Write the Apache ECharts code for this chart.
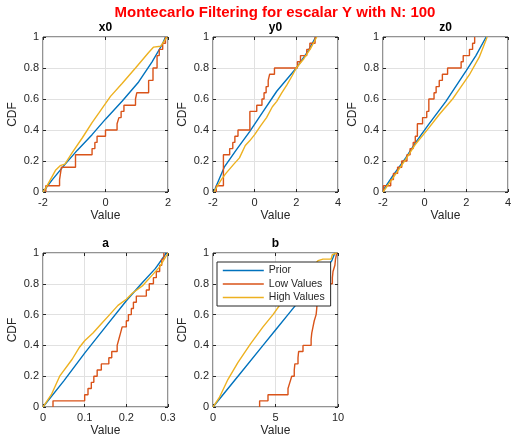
<!DOCTYPE html>
<html>
<head>
<meta charset="utf-8">
<script src="https://cdn.jsdelivr.net/npm/echarts@6/dist/echarts.min.js"></script>
<style>
  html, body { margin: 0; padding: 0; background: #ffffff; }
  #chart { width: 517px; height: 442px; }
</style>
</head>
<body>
<div id="chart"></div>
<script>
// ---- data: empirical CDF curves, [value, cdf] pairs per parameter ----
const panelTitles = ['x0', 'y0', 'z0', 'a', 'b'];
const seriesNames = ['Prior', 'Low Values', 'High Values'];
const cdfTicks = [0, 0.2, 0.4, 0.6, 0.8, 1];

const xTicksX0 = [-2, 0, 2];
const xTicksY0 = [-2, 0, 2, 4];
const xTicksZ0 = [-2, 0, 2, 4];
const xTicksA = [0, 0.1, 0.2, 0.3];
const xTicksB = [0, 5, 10];

const priorX0 = [[-2,0],[-1.7,0.08],[-1.33,0.17],[-0.9,0.27],[-0.43,0.37],[0,0.47],[0.53,0.585],[1.06,0.71],[1.49,0.84],[1.81,0.95],[1.92,1]];
const lowX0 = [[-1.91,0],[-1.91,0.04],[-1.47,0.08],[-1.41,0.16],[-0.96,0.24],[-0.43,0.28],[-0.34,0.32],[-0.27,0.36],[0,0.4],[0.37,0.44],[0.43,0.48],[0.5,0.52],[0.59,0.56],[0.96,0.6],[1.0,0.64],[1.38,0.72],[1.52,0.8],[1.65,0.88],[1.72,0.92],[1.83,0.96],[1.92,1]];
const highX0 = [[-2,0],[-1.9,0.03],[-1.6,0.14],[-1.45,0.17],[-1.3,0.18],[-1.06,0.255],[-0.74,0.35],[-0.43,0.447],[-0.21,0.51],[0.16,0.617],[0.53,0.7],[0.96,0.8],[1.38,0.9],[1.54,0.935],[1.76,0.94],[1.97,1]];

const priorY0 = [[-1.95,0],[-1.87,0.03],[-1.46,0.16],[-0.89,0.27],[-0.24,0.39],[0.41,0.52],[1.06,0.65],[2.0,0.8],[2.52,0.9],[2.93,1]];
const lowY0 = [[-1.84,0],[-1.84,0.04],[-1.5,0.24],[-1.2,0.28],[-1.05,0.32],[-0.95,0.36],[-0.8,0.4],[-0.23,0.52],[0.1,0.56],[0.35,0.6],[0.45,0.64],[0.55,0.68],[0.65,0.72],[0.72,0.76],[0.95,0.8],[2.05,0.84],[2.2,0.88],[2.5,0.92],[2.65,0.96],[2.9,1]];
const highY0 = [[-1.95,0],[-1.87,0.02],[-1.6,0.08],[-1.38,0.12],[-1.0,0.18],[-0.73,0.22],[-0.45,0.3],[-0.24,0.33],[0,0.37],[0.3,0.43],[0.57,0.48],[0.85,0.55],[1.06,0.585],[1.3,0.64],[1.54,0.69],[1.8,0.75],[2.0,0.8],[2.36,0.86],[2.68,0.925],[2.98,1]];

const priorZ0 = [[-2,0],[-1.95,0.02],[-1.55,0.1],[-0.91,0.22],[-0.43,0.32],[0.21,0.44],[1.02,0.585],[1.98,0.78],[2.46,0.88],[2.95,1]];
const lowZ0 = [[-1.98,0],[-1.98,0.04],[-1.63,0.08],[-1.5,0.12],[-1.3,0.16],[-1.1,0.2],[-0.85,0.24],[-0.7,0.28],[-0.55,0.32],[-0.45,0.36],[-0.35,0.44],[-0.1,0.48],[0.1,0.52],[0.2,0.6],[0.45,0.64],[0.55,0.68],[0.7,0.72],[0.85,0.76],[1.1,0.8],[1.75,0.84],[1.85,0.88],[2.15,0.92],[2.3,0.96],[2.4,1]];
const highZ0 = [[-2,0],[-1.95,0.01],[-1.55,0.085],[-0.91,0.21],[-0.43,0.31],[0.21,0.415],[0.7,0.5],[1.34,0.6],[1.7,0.67],[2.14,0.755],[2.62,0.87],[3.0,1]];

const priorA = [[0,0],[0.05,0.17],[0.1,0.35],[0.15,0.52],[0.2,0.69],[0.236,0.8],[0.27,0.9],[0.296,1]];
const lowA = [[0.024,0],[0.024,0.04],[0.1,0.08],[0.108,0.12],[0.116,0.16],[0.122,0.2],[0.13,0.24],[0.14,0.28],[0.158,0.32],[0.165,0.36],[0.178,0.4],[0.182,0.44],[0.186,0.48],[0.19,0.52],[0.2,0.56],[0.205,0.6],[0.212,0.64],[0.217,0.68],[0.224,0.72],[0.248,0.76],[0.255,0.8],[0.265,0.84],[0.272,0.88],[0.28,0.92],[0.285,0.96],[0.29,1]];
const highA = [[0,0],[0.02,0.08],[0.04,0.2],[0.07,0.31],[0.088,0.39],[0.1,0.43],[0.12,0.48],[0.14,0.54],[0.16,0.6],[0.18,0.66],[0.2,0.7],[0.215,0.74],[0.24,0.79],[0.26,0.85],[0.28,0.91],[0.3,1]];

const priorB = [[0,0],[2,0.2],[4,0.4],[5,0.5],[6,0.6],[8,0.8],[9.5,0.95],[9.75,1]];
const lowB = [[3.73,0],[3.73,0.04],[4.4,0.08],[6.0,0.12],[6.15,0.16],[6.3,0.2],[6.5,0.24],[6.55,0.28],[6.8,0.32],[6.85,0.36],[7.2,0.4],[7.85,0.44],[7.9,0.48],[8.0,0.52],[8.1,0.56],[8.25,0.6],[8.3,0.64],[8.35,0.72],[8.4,0.8],[9.55,0.84],[9.6,0.88],[9.75,0.92],[9.8,0.96],[9.9,1]];
const highB = [[0,0],[0.5,0.06],[1.2,0.18],[2,0.29],[3,0.41],[4,0.52],[4.8,0.6],[5.5,0.68],[6.5,0.78],[7.5,0.87],[8.4,0.95],[8.8,0.96],[9.45,0.96],[9.55,0.99],[9.9,1]];

// ---- assembly ----
const panelTicks = [xTicksX0, xTicksY0, xTicksZ0, xTicksA, xTicksB];
const panelCurves = [
  [priorX0, lowX0, highX0],
  [priorY0, lowY0, highY0],
  [priorZ0, lowZ0, highZ0],
  [priorA, lowA, highA],
  [priorB, lowB, highB]
];

// layout of the 2x3 subplot arrangement (pixels)
const gridPos = [[43, 37, 155], [213, 37, 155], [383, 37, 155], [43, 253, 154], [213, 253, 154]];
const gridWidth = 125;
const lineColors = ['#0072BD', '#D95319', '#EDB120'];
const inkColor = '#262626';
const gridColor = '#e1e1e1';
const fontFamily = 'Arial, "Liberation Sans", Helvetica, sans-serif';
const tickStyle = { show: true, inside: true, length: 3, lineStyle: { color: inkColor } };
const fmt = v => String(Math.round(v * 1000) / 1000);

const grids = [], xAxes = [], yAxes = [], series = [], texts = [];

panelTitles.forEach((title, i) => {
  const [left, top, height] = gridPos[i];
  grids.push({
    left: left, top: top, width: gridWidth, height: height,
    show: true, borderColor: inkColor, borderWidth: 1, backgroundColor: '#ffffff'
  });
  const ticks = panelTicks[i];
  xAxes.push({
    type: 'value', gridIndex: i, position: 'bottom',
    min: ticks[0], max: ticks[ticks.length - 1], interval: ticks[1] - ticks[0],
    axisLine: { show: false, onZero: false },
    axisTick: tickStyle,
    name: 'Value', nameLocation: 'middle', nameGap: 18,
    nameTextStyle: { fontSize: 12, color: inkColor, fontFamily: fontFamily },
    axisLabel: { fontSize: 11, color: inkColor, margin: 5, fontFamily: fontFamily, formatter: fmt },
    splitLine: { show: true, lineStyle: { color: gridColor, width: 1 } }
  });
  yAxes.push({
    type: 'value', gridIndex: i, position: 'left',
    min: cdfTicks[0], max: cdfTicks[cdfTicks.length - 1], interval: cdfTicks[1] - cdfTicks[0],
    axisLine: { show: false, onZero: false },
    axisTick: tickStyle,
    name: 'CDF', nameLocation: 'middle', nameGap: 24, nameRotate: 90,
    nameTextStyle: { fontSize: 12, color: inkColor, fontFamily: fontFamily },
    axisLabel: { fontSize: 11, color: inkColor, margin: 4, fontFamily: fontFamily, formatter: fmt },
    splitLine: { show: true, lineStyle: { color: gridColor, width: 1 } }
  });

  panelCurves[i].forEach((curve, k) => {
    series.push({
      type: 'line', name: seriesNames[k],
      xAxisIndex: i, yAxisIndex: i,
      data: curve,
      step: k === 1 ? 'end' : false,
      symbol: 'none', showSymbol: false,
      lineStyle: { color: lineColors[k], width: 1.4 },
      itemStyle: { color: lineColors[k] },
      z: 3 + k
    });
  });

  texts.push({
    type: 'text',
    x: left + gridWidth / 2, y: top - 9,
    style: { text: title, fill: '#000000', font: 'bold 12px ' + fontFamily,
      textAlign: 'center', textVerticalAlign: 'middle' }
  });
});

// mirrored axes on the top and right edges carry the inward ticks of the box
panelTitles.forEach((title, i) => {
  const ticks = panelTicks[i];
  xAxes.push({
    type: 'value', gridIndex: i, position: 'top',
    min: ticks[0], max: ticks[ticks.length - 1], interval: ticks[1] - ticks[0],
    axisLine: { show: false, onZero: false }, axisLabel: { show: false }, splitLine: { show: false },
    axisTick: tickStyle
  });
  yAxes.push({
    type: 'value', gridIndex: i, position: 'right',
    min: cdfTicks[0], max: cdfTicks[cdfTicks.length - 1], interval: cdfTicks[1] - cdfTicks[0],
    axisLine: { show: false, onZero: false }, axisLabel: { show: false }, splitLine: { show: false },
    axisTick: tickStyle
  });
});

texts.push({
  type: 'text', x: 275, y: 13,
  style: { text: 'Montecarlo Filtering for escalar Y with N: 100', fill: '#ff0000',
    font: 'bold 15px ' + fontFamily, textAlign: 'center', textVerticalAlign: 'middle' }
});

const chart = echarts.init(document.getElementById('chart'), null, { renderer: 'canvas' });
chart.setOption({
  animation: false,
  backgroundColor: '#ffffff',
  grid: grids,
  xAxis: xAxes,
  yAxis: yAxes,
  series: series,
  graphic: { elements: texts },
  legend: {
    data: seriesNames,
    orient: 'vertical',
    left: 217, top: 262,
    padding: [3, 6, 3, 5],
    itemWidth: 41, itemHeight: 12, itemGap: 2.5,
    itemStyle: { opacity: 0 },
    lineStyle: { width: 1.6, color: 'inherit', opacity: 1 },
    backgroundColor: '#ffffff',
    borderColor: inkColor, borderWidth: 1, borderRadius: 0,
    textStyle: { fontSize: 10.5, color: inkColor, fontFamily: fontFamily },
    selectedMode: false,
    z: 10
  }
});
</script>
</body>
</html>
